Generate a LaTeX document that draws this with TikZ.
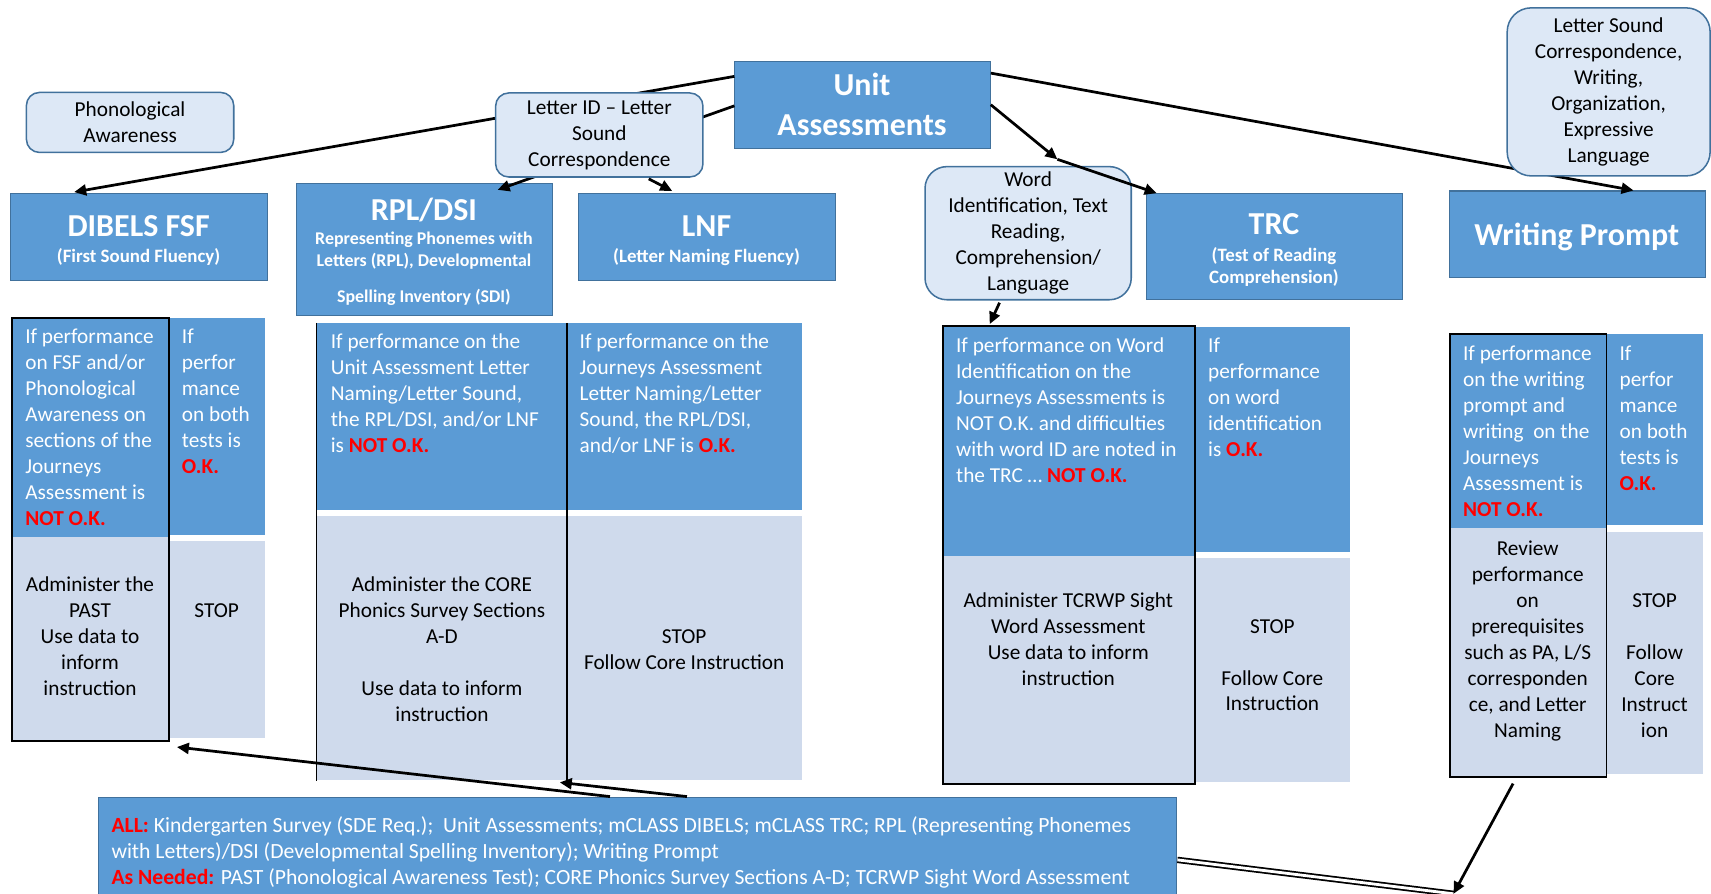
\documentclass[tikz,border=0pt]{standalone}
\usepackage{fontspec}
\setmainfont{Carlito}
\usetikzlibrary{arrows.meta,calc}
\definecolor{hblue}{RGB}{91,155,213}
\definecolor{hborder}{RGB}{65,113,156}
\definecolor{rfill}{RGB}{221,232,246}
\definecolor{lcell}{RGB}{207,218,236}
\definecolor{okred}{RGB}{255,0,0}
\newcommand\bodyfont{\fontsize{19.5}{23.8}\selectfont}
\newcommand\allfont{\fontsize{19.85}{23.8}\selectfont}
\newcommand\headfont{\fontsize{29.3}{35}\selectfont\bfseries}
\newcommand\subfont{\fontsize{17.3}{20}\selectfont\bfseries}
\newcommand\subsmall{\fontsize{16.4}{20}\selectfont\bfseries}
\newcommand\nok{\textcolor{okred}{\bfseries NOT O.K.}}
\newcommand\okk{\textcolor{okred}{\bfseries O.K.}}
\begin{document}
\begin{tikzpicture}[x=1pt,y=-1pt,
  hbox/.style={draw=hborder, line width=1pt, fill=hblue, inner sep=0pt, anchor=north west},
  rbox/.style={draw=hborder, line width=1.4pt, fill=rfill, rounded corners=12pt, inner sep=0pt, anchor=north west, align=center, font=\bodyfont},
  htext/.style={text=white, font=\headfont, anchor=base, inner sep=0pt},
  stext/.style={text=white, font=\subfont, anchor=base, inner sep=0pt},
  sstext/.style={text=white, font=\subsmall, anchor=base, inner sep=0pt},
  bcell/.style={fill=hblue, inner sep=0pt, anchor=north west},
  lcellst/.style={fill=lcell, inner sep=0pt, anchor=north west},
  colframe/.style={draw=black, line width=1.6pt, inner sep=0pt, anchor=north west},
  wtxt/.style={text=white, font=\bodyfont, align=left, anchor=north west, inner sep=0pt},
  ktxt/.style={text=black, font=\bodyfont, align=center, anchor=north, inner sep=0pt},
  arr/.style={line width=2.5pt, -{Triangle[length=11pt,width=10pt]}},
  conn/.style={line width=2.5pt}]
\useasboundingbox (0,0) rectangle (1568,819);

% ---------- header boxes ----------
\node[hbox, minimum width=234pt, minimum height=79.5pt] (unit) at (673,56) {};
\node[htext] (unitA) at (790,87.3) {Unit};
\node[htext] (unitB) at (790,123.8) {Assessments};

\node[hbox, minimum width=235pt, minimum height=79.5pt] (dibels) at (9.5,177) {};
\node[htext] (dibA) at (127,217) {DIBELS FSF};
\node[stext] (dibB) at (127,240.7) {(First Sound Fluency)};

\node[hbox, minimum width=234pt, minimum height=121pt] (rpl) at (271.5,168) {};
\node[htext] (rplA) at (388.5,201.8) {RPL/DSI};
\node[sstext] (rplB) at (388.5,224.5) {Representing Phonemes with};
\node[sstext] (rplC) at (388.5,244.1) {Letters (RPL), Developmental};
\node[sstext] (rplD) at (388.5,277.1) {Spelling Inventory (SDI)};

\node[hbox, minimum width=235pt, minimum height=79.5pt] (lnf) at (530,177) {};
\node[htext] (lnfA) at (647.5,217) {LNF};
\node[stext] (lnfB) at (647.5,240.7) {(Letter Naming Fluency)};

\node[hbox, minimum width=234pt, minimum height=97pt] (trc) at (1050.5,177) {};
\node[htext] (trcA) at (1167.5,214.6) {TRC};
\node[stext] (trcB) at (1167.5,239.2) {(Test of Reading};
\node[stext] (trcC) at (1167.5,259.6) {Comprehension)};

\node[hbox, minimum width=234.5pt, minimum height=79.5pt] (wp) at (1328,174.5) {};
\node[htext] (wpA) at (1445,224.7) {Writing Prompt};

% ---------- DIBELS table ----------
\node[bcell, minimum width=144pt, minimum height=201.5pt] (d1) at (10,290.5) {};
\node[lcellst, minimum width=144pt, minimum height=186pt] (d2) at (10,492) {};
\node[bcell, minimum width=89pt, minimum height=198.5pt] (d3) at (154,291.5) {};
\node[lcellst, minimum width=89pt, minimum height=180pt] (d4) at (154,496) {};
\node[colframe, minimum width=144pt, minimum height=387.5pt] (dfr) at (10,290.5) {};
\node[wtxt] (d1t) at (23,298) {\strut If performance\\on FSF and/or\\Phonological\\Awareness on\\sections of the\\Journeys\\Assessment is\\\nok};
\node[wtxt] (d3t) at (166.5,298) {\strut If\\perfor\\mance\\on both\\tests is\\\okk};
\node[ktxt] (d2t) at (82.5,525) {\strut Administer the\\PAST\\Use data to\\inform\\instruction};
\node[ktxt] (d4t) at (198.6,548.7) {\strut STOP};

% ---------- RPL / LNF table ----------
\node[bcell, minimum width=229.5pt, minimum height=171pt] (r1) at (290,296) {};
\node[lcellst, minimum width=229.5pt, minimum height=242.5pt] (r2) at (290,472.5) {};
\node[bcell, minimum width=215.5pt, minimum height=171pt] (r3) at (519.5,296) {};
\node[lcellst, minimum width=215.5pt, minimum height=242.5pt] (r4) at (519.5,472.5) {};
\draw[line width=1.6pt] (r1.north west) -- (r2.south west);
\draw[line width=1.6pt] (r3.north west) -- (r4.south west);
\node[wtxt] (r1t) at (303,302.7) {\strut If performance on the\\Unit Assessment Letter\\Naming/Letter Sound,\\the RPL/DSI, and/or LNF\\is \nok};
\node[wtxt] (r3t) at (531,302.7) {\strut If performance on the\\Journeys Assessment\\Letter Naming/Letter\\Sound, the RPL/DSI,\\and/or LNF is \okk};
\node[ktxt] (r2t) at (405,525.4) {\strut Administer the CORE\\Phonics Survey Sections\\A-D\\[23.8pt]Use data to inform\\instruction};
\node[ktxt] (r4t) at (627,572.5) {\strut STOP\\Follow Core Instruction};

% ---------- Word table ----------
\node[bcell, minimum width=231pt, minimum height=211pt] (w1) at (863.5,298) {};
\node[lcellst, minimum width=231pt, minimum height=209pt] (w2) at (863.5,509) {};
\node[bcell, minimum width=142.5pt, minimum height=206pt] (w3) at (1094.5,299.7) {};
\node[lcellst, minimum width=142.5pt, minimum height=205.5pt] (w4) at (1094.5,510.8) {};
\node[colframe, minimum width=231pt, minimum height=420pt] (wfr) at (863.5,298) {};
\node[wtxt] (w1t) at (876,306) {\strut If performance on Word\\Identification on the\\Journeys Assessments is\\NOT O.K. and difficulties\\with word ID are noted in\\the TRC \dots\ \nok};
\node[wtxt] (w3t) at (1107,306) {\strut If\\performance\\on word\\identification\\is \okk};
\node[ktxt] (w2t) at (979,539.8) {\strut Administer TCRWP Sight\\Word Assessment\\Use data to inform\\instruction};
\node[ktxt] (w4t) at (1166,563.3) {\strut STOP\\[23.8pt]Follow Core\\Instruction};

% ---------- Writing table ----------
\node[bcell, minimum width=143.5pt, minimum height=178.5pt] (p1) at (1328,305.5) {};
\node[lcellst, minimum width=143.5pt, minimum height=227pt] (p2) at (1328,484) {};
\node[bcell, minimum width=89pt, minimum height=175pt] (p3) at (1471.5,306) {};
\node[lcellst, minimum width=89pt, minimum height=222.5pt] (p4) at (1471.5,487) {};
\node[colframe, minimum width=143.5pt, minimum height=405.5pt] (wlfr) at (1328,305.5) {};
\node[wtxt] (p1t) at (1340.6,313.4) {\strut If performance\\on the writing\\prompt and\\writing\ \ on the\\Journeys\\Assessment is\\\nok};
\node[wtxt] (p3t) at (1484,313.4) {\strut If\\perfor\\mance\\on both\\tests is\\\okk};
\node[ktxt] (p2t) at (1400,492) {\strut Review\\performance\\on\\prerequisites\\such as PA, L/S\\corresponden\\ce, and Letter\\Naming};
\node[ktxt] (p4t) at (1516.3,539.8) {\strut STOP\\[23.8pt]Follow\\Core\\Instruct\\ion};

% ---------- bottom box ----------
\node[hbox, minimum width=988pt, minimum height=120pt] (allbox) at (90,730) {};
\node[wtxt, font=\allfont] (allt) at (102,746) {\strut\textcolor{okred}{\bfseries ALL:} Kindergarten Survey (SDE Req.);\ \ Unit Assessments; mCLASS DIBELS; mCLASS TRC; RPL (Representing Phonemes\\with Letters)/DSI (Developmental Spelling Inventory); Writing Prompt\\\textcolor{okred}{\bfseries As Needed:} PAST (Phonological Awareness Test); CORE Phonics Survey Sections A-D; TCRWP Sight Word Assessment};

% ---------- connectors passing behind rounded boxes ----------
\draw[arr] ($(unit.north west)+(0,14)$) -- ($(dibels.north west)+(58.5,-1)$);
\draw[arr] ($(unit.north west)+(0,41)$) -- ($(rpl.north west)+(184.5,6)$);
\draw[arr] ($(unit.north east)+(0,11)$) -- ($(wp.north west)+(169,0)$);

% ---------- rounded boxes ----------
\node[rbox, minimum width=190pt, minimum height=55pt] (phon) at (23.5,84) {Phonological\\Awareness};
\node[rbox, minimum width=190pt, minimum height=77pt] (letid) at (453.5,84.5) {Letter ID -- Letter\\Sound\\Correspondence};
\node[rbox, rounded corners=20pt, minimum width=189pt, minimum height=122pt] (wordid) at (847,152) {Word\\Identification, Text\\Reading,\\Comprehension/\\Language};
\node[rbox, rounded corners=22pt, minimum width=186pt, minimum height=154pt] (lsc) at (1380.5,6.5) {Letter Sound\\Correspondence,\\Writing,\\Organization,\\Expressive\\Language};

% ---------- other connectors ----------
\draw[arr] ($(letid.south west)+(141,1)$) -- ($(lnf.north west)+(86,-2)$);
\coordinate (bsplit) at ($(wordid.north west)+(122,-6)$);
\draw[arr] ($(unit.north east)+(0,40)$) -- (bsplit);
\draw[arr] (bsplit) -- ($(trc.north west)+(9.5,0)$);
\draw[arr] ($(wordid.south west)+(69,2)$) -- ($(wfr.north west)+(43.5,-1)$);
\draw[arr] ($(allbox.north west)+(469,0)$) -- ($(dfr.south east)+(6.5,5)$);
\draw[arr] ($(allbox.north west)+(539.5,0)$) -- ($(r4.south west)+(-6.5,1.6)$);
\coordinate (jn) at ($(wlfr.south west)+(4,106.5)$);
\draw[line width=1.6pt, double=white, double distance=2.6pt] ($(allbox.north east)+(0,58)$) -- (jn);
\draw[arr] ($(wlfr.south west)+(58.6,5.5)$) -- (jn);
\end{tikzpicture}
\end{document}
